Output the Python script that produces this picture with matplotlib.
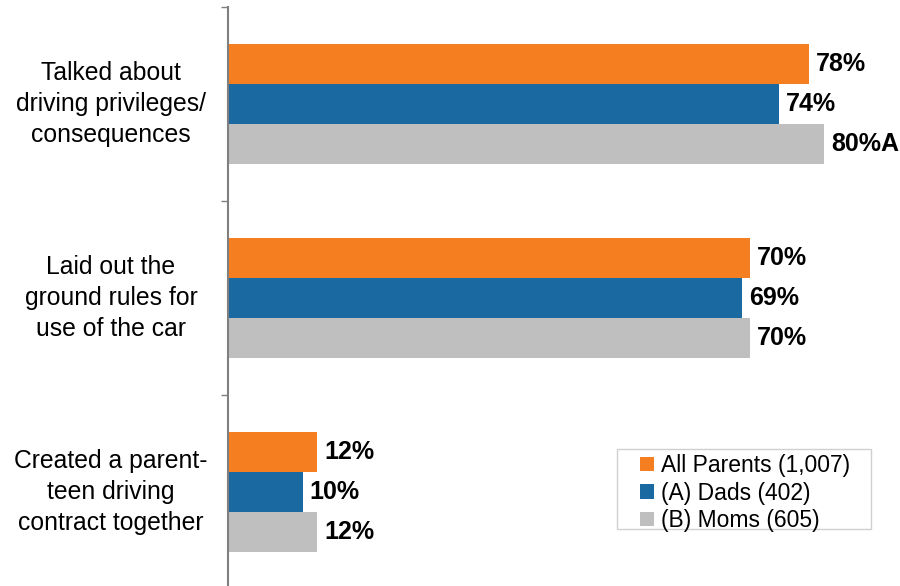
import matplotlib
matplotlib.use("Agg")
import matplotlib.pyplot as plt
from matplotlib.patches import Rectangle
import numpy as np

plt.rcParams['font.family'] = ['Liberation Sans', 'DejaVu Sans']

categories = [
    "Talked about\ndriving privileges/\nconsequences",
    "Laid out the\nground rules for\nuse of the car",
    "Created a parent-\nteen driving\ncontract together",
]
series_names = ["All Parents (1,007)", "(A) Dads (402)", "(B) Moms (605)"]
all_parents = [78, 70, 12]
dads = [74, 69, 10]
moms = [80, 70, 12]
value_labels = [
    ["78%", "70%", "12%"],
    ["74%", "69%", "10%"],
    ["80%A", "70%", "12%"],
]
colors = ["#F57E20", "#1B69A1", "#BFBFBF"]

fig = plt.figure(figsize=(9, 5.86), dpi=100)
ax = fig.add_axes([228 / 900, -3 / 586, 672 / 900, 582 / 586])

y = np.arange(len(categories))
bar_h = 0.206
series = [all_parents, dads, moms]
for i, (vals, name, col) in enumerate(zip(series, series_names, colors)):
    pos = y + (i - 1) * bar_h
    ax.barh(pos, vals, height=bar_h, color=col, label=name, edgecolor='none')
    for p, v, lab in zip(pos, vals, value_labels[i]):
        ax.annotate(lab, (v, p), xytext=(5, 0), textcoords='offset points',
                    ha='left', va='center', fontsize=18, fontweight='bold',
                    color='black')

ax.set_xlim(0, 90.2)
ax.set_ylim(2.5, -0.5)

for s in ['top', 'right', 'bottom']:
    ax.spines[s].set_visible(False)
ax.spines['left'].set_color('#7F7F7F')
ax.spines['left'].set_linewidth(1.5)
ax.set_xticks([])
ax.set_yticks(np.arange(-0.5, len(categories), 1.0))
ax.set_yticklabels([])
ax.tick_params(axis='y', direction='out', length=5, width=1.0, color='#7F7F7F')

for yc, lab in zip(y, categories):
    ax.text(-117 / 7.45, yc, lab, ha='center', va='center', fontsize=17.8,
            linespacing=1.37, color='black', multialignment='center')

# Legend entries without their own frame; the box is drawn separately
leg = ax.legend(loc='upper left', bbox_to_anchor=(0.613, 0.232),
                borderaxespad=0, fontsize=16.5, frameon=False,
                handlelength=0.6, handleheight=0.6, handletextpad=0.3,
                labelspacing=0.2, borderpad=0)
ax.add_patch(Rectangle((0.5789, 0.1031), 0.378, 0.1375, transform=ax.transAxes,
                       fill=False, edgecolor='#D0D0D0', linewidth=1.0,
                       clip_on=False, zorder=1))

fig.savefig("out.png", dpi=100)
